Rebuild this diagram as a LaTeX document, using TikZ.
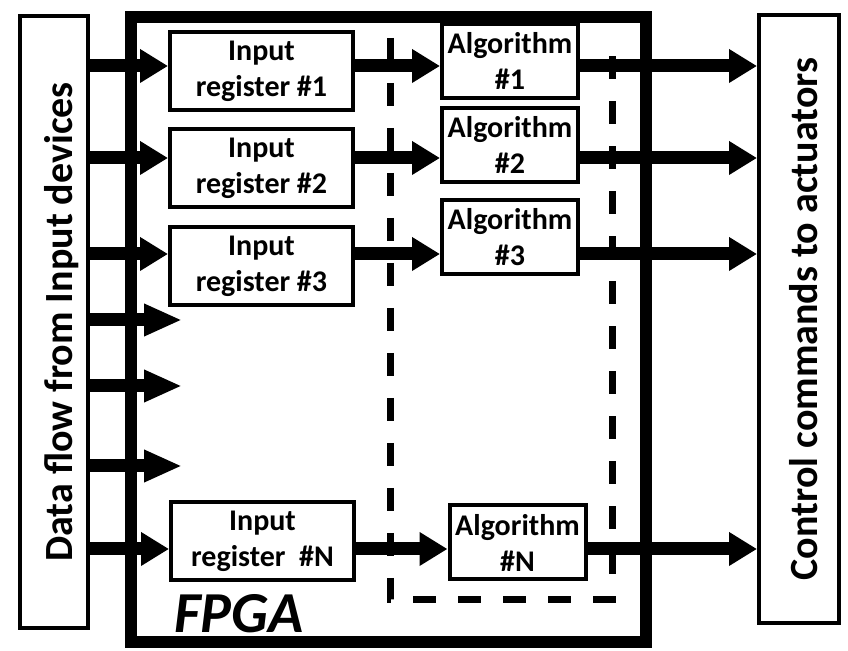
\documentclass[tikz,border=0pt]{standalone}
\usepackage{fontspec}
\setmainfont{Carlito}
\usetikzlibrary{arrows.meta,positioning}

\begin{document}
\begin{tikzpicture}[
    x=0.5pt, y=-0.5pt,
    font=\bfseries\fontsize{15}{18}\selectfont,
    flow/.style={line width=6.5pt, -{Triangle[length=14pt, width=16pt]}},
    longflow/.style={line width=6.5pt, -{Triangle[length=19pt, width=15pt]}},
    regbox/.style={draw, line width=2pt, minimum width=91.5pt, minimum height=39pt, inner sep=1pt, align=center},
    algbox/.style={draw, line width=2pt, minimum width=68pt, minimum height=37pt, inner sep=1pt, align=center},
    sidebox/.style={draw, line width=2pt},
    sidetext/.style={rotate=90, anchor=base, font=\bfseries\fontsize{20}{24}\selectfont}
]
\useasboundingbox (0,0) rectangle (848,651);

% FPGA frame and the dashed algorithm region
\node[draw, line width=6pt, minimum width=257.5pt, minimum height=312.5pt] (fpga) at (388.5,329.5) {};
\draw[line width=3.5pt, dash pattern=on 11.5pt off 11pt] (390,38) -- (390,600) -- (612,600) -- (612,38);
\node[inner sep=0pt, font=\bfseries\itshape\fontsize{29}{30}\selectfont] (fpgalbl) at (239,614) {FPGA};

% side boxes
\node[sidebox, minimum width=34pt, minimum height=306pt] (datain) at (54,322) {};
\node[sidetext] (datalbl) at ([xshift=9pt]datain.center) {Data flow from Input devices};
\node[sidebox, minimum width=40pt, minimum height=304pt] (ctrl) at (799,319) {};
\node[sidetext] (ctrllbl) at ([xshift=9pt]ctrl.center) {Control commands to actuators};

% registers and algorithms
\node[regbox] (reg1) at (261.5,71) {Input\\register \#1};
\node[regbox] (reg2) at (261.5,168) {Input\\register \#2};
\node[regbox] (reg3) at (261.5,266.5) {Input\\register \#3};
\node[regbox] (regN) at (262.5,541) {Input\\register~ \#N};
\node[algbox] (alg1) at (510,61) {Algorithm\\\#1};
\node[algbox] (alg2) at (510,145) {Algorithm\\\#2};
\node[algbox] (alg3) at (510,237.5) {Algorithm\\\#3};
\node[algbox] (algN) at (517.5,542.5) {Algorithm\\\#N};

\coordinate (row1) at (0,66);
\coordinate (row2) at (0,158);
\coordinate (row3) at (0,254);
\coordinate (rowN) at (0,549);

\foreach \i in {1,2,3,N} {
    \draw[flow] (datain.east |- row\i) -- (reg\i.west |- row\i);
    \draw[flow] (reg\i.east |- row\i) -- (alg\i.west |- row\i);
    \draw[flow] (alg\i.east |- row\i) -- (ctrl.west |- row\i);
}

% unused inputs
\foreach \y [count=\k from 4] in {320,386,466} {
    \coordinate (tip\k) at (182,\y);
    \draw[longflow] (datain.east |- tip\k) -- (tip\k);
}
\end{tikzpicture}
\end{document}
